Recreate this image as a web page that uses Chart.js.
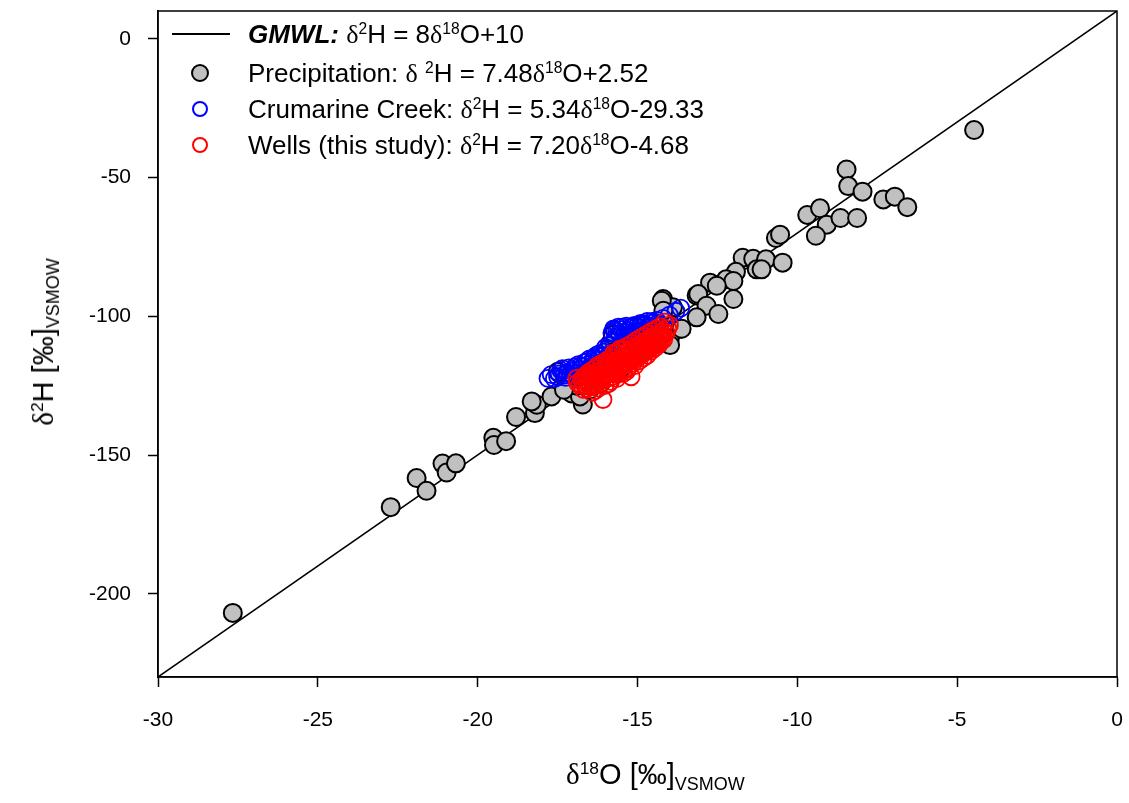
<!DOCTYPE html>
<html>
<head>
<meta charset="utf-8">
<script src="https://cdn.jsdelivr.net/npm/chart.js@4.4.0/dist/chart.umd.min.js"></script>
<style>
  body { margin: 0; background: #fff; }
  #wrap { position: relative; width: 1129px; height: 803px; font-family: "Liberation Sans", Arial, sans-serif; color: #000; }
  #chart { position: absolute; left: 0; top: 0; }
  .lg { position: absolute; left: 248px; height: 30px; line-height: 30px; font-size: 26px; white-space: nowrap; }
  .d { font-family: "Liberation Serif", serif; }
  sup { font-size: 60%; position: relative; top: -0.6em; vertical-align: baseline; }
  sub { font-size: 62%; position: relative; top: 0.35em; vertical-align: baseline; }
  .mk { position: absolute; border-radius: 50%; box-sizing: border-box; }
  .title { position: absolute; font-size: 29px; white-space: nowrap; line-height: 32px; }
</style>
</head>
<body>
<div id="wrap">
  <canvas id="chart" width="1129" height="803"></canvas>

  <div style="position:absolute;left:172px;top:33px;width:58px;height:1.5px;background:#000"></div>
  <div class="lg" style="top:19px"><b><i>GMWL:</i></b> <span class="d">δ</span><sup>2</sup>H = 8<span class="d">δ</span><sup>18</sup>O+10</div>

  <div class="mk" style="left:191px;top:64px;width:18px;height:18px;background:#c0c0c0;border:2px solid #000"></div>
  <div class="lg" style="top:58px">Precipitation: <span class="d">δ</span> <sup>2</sup>H = 7.48<span class="d">δ</span><sup>18</sup>O+2.52</div>

  <div class="mk" style="left:192px;top:101px;width:16px;height:16px;border:2px solid #0000ff"></div>
  <div class="lg" style="top:94px">Crumarine Creek: <span class="d">δ</span><sup>2</sup>H = 5.34<span class="d">δ</span><sup>18</sup>O-29.33</div>

  <div class="mk" style="left:192px;top:137px;width:16px;height:16px;border:2px solid #ff0000"></div>
  <div class="lg" style="top:130px">Wells (this study): <span class="d">δ</span><sup>2</sup>H = 7.20<span class="d">δ</span><sup>18</sup>O-4.68</div>

  <div class="title" style="left:566px;top:758px"><span class="d">δ</span><sup>18</sup>O [‰]<sub>VSMOW</sub></div>
  <div class="title" style="left:45px;top:342px;transform:translate(-50%,-50%) rotate(-90deg)"><span class="d">δ</span><sup>2</sup>H [‰]<sub>VSMOW</sub></div>
</div>

<script>
const xTicks = [-30, -25, -20, -15, -10, -5, 0];
const yTicks = [-200, -150, -100, -50, 0];

// Global meteoric water line end points
const gmwlX = [-30, 0];
const gmwlY = [-230, 10];

const precipX = [-27.66, -22.72, -21.91, -21.6, -21.10, -20.97, -20.68, -19.51, -19.49, -19.11,
  -18.80, -18.21, -18.15, -18.31, -17.69, -17.06, -16.71, -16.80, -15.86, -15.77,
  -14.87, -14.20, -13.89, -13.15, -13.67, -13.99, -8.46, -8.41, -7.96, -7.31,
  -6.95, -6.56, -9.69, -9.29, -9.08, -9.42, -8.65, -8.13, -10.67, -10.54,
  -11.71, -11.38, -10.98, -10.46, -11.27, -11.12, -11.92, -12.23, -12.00, -12.73,
  -12.52, -13.10, -12.00, -12.84, -12.47, -13.15, -14.24, -14.19, -13.62, -4.47,
  -17.49, -13.98, -16.17, -16.5, -16.0, -15.5, -15.0, -14.6, -16.9, -17.3];
const precipY = [-206.9, -168.8, -158.3, -162.9, -153.1, -156.3, -153.0, -143.8, -146.4, -145.0,
  -136.3, -134.9, -131.9, -130.7, -128.9, -127.8, -131.8, -128.9, -109.9, -106.8,
  -103.2, -93.8, -96.8, -92.5, -104.5, -108.1, -47.1, -53.1, -55.1, -57.9,
  -56.9, -60.7, -63.5, -61.1, -67.0, -71.0, -64.6, -64.6, -71.8, -70.6,
  -78.9, -79.3, -79.5, -80.7, -83.1, -83.1, -84.0, -86.7, -87.3, -87.9,
  -89.0, -92.0, -93.8, -96.2, -99.2, -100.4, -94.4, -98.0, -104.5, -32.9,
  -120.0, -110.4, -124.3, -126.5, -121.0, -118.5, -114.0, -110.0, -125.0, -126.5];

const creekX = [-17.8, -17.7, -17.6, -17.5, -17.45, -17.4, -17.35, -17.3, -17.25, -17.2,
  -17.15, -17.1, -17.05, -17.0, -16.98, -16.95, -16.9, -16.88, -16.85, -16.8,
  -16.78, -16.75, -16.7, -16.68, -16.65, -16.6, -16.58, -16.55, -16.5, -16.48,
  -16.45, -16.4, -16.38, -16.35, -16.3, -16.28, -16.25, -16.2, -16.15, -16.1,
  -16.05, -16.0, -16.0, -15.95, -15.9, -15.85, -15.8, -15.75, -15.75, -15.72,
  -15.7, -15.65, -15.6, -15.58, -15.55, -15.5, -15.48, -15.45, -15.4, -15.38,
  -15.35, -15.3, -15.28, -15.25, -15.2, -15.18, -15.15, -15.1, -15.08, -15.05,
  -15.0, -14.98, -14.95, -14.9, -14.88, -14.85, -14.8, -14.78, -14.75, -14.7,
  -14.68, -14.65, -14.6, -14.55, -14.5, -14.45, -14.4, -14.35, -14.3, -14.2,
  -14.0, -13.8, -13.65];
const creekY = [-122.4, -121.0, -122.5, -121.8, -120.8, -119.5, -118.9, -121.2, -122.0, -120.3,
  -118.6, -120.9, -119.8, -121.5, -119.4, -118.2, -120.6, -121.8, -117.4, -119.1,
  -117.9, -121.0, -118.0, -120.3, -116.6, -119.8, -116.4, -117.5, -115.4, -119.0,
  -118.6, -116.3, -115.3, -114.8, -117.7, -114.0, -115.9, -113.6, -116.8, -114.5,
  -112.9, -115.6, -111.2, -111.8, -113.9, -110.5, -106.0, -104.6, -109.2, -105.0,
  -107.8, -105.3, -103.9, -106.2, -106.9, -104.8, -103.9, -108.7, -105.9, -107.0,
  -103.6, -107.2, -105.2, -104.4, -109.4, -103.9, -106.1, -103.3, -106.6, -105.6,
  -107.9, -103.0, -104.1, -102.6, -105.3, -106.4, -104.9, -102.8, -103.2, -101.9,
  -104.2, -105.5, -103.7, -101.9, -102.4, -104.6, -101.5, -102.4, -103.1, -100.8,
  -99.6, -98.2, -97.1];

const wellsX = [-16.9, -16.88, -16.8, -16.75, -16.7, -16.7, -16.68, -16.64, -16.6, -16.6,
  -16.58, -16.55, -16.52, -16.5, -16.48, -16.46, -16.45, -16.42, -16.4, -16.4,
  -16.38, -16.36, -16.35, -16.33, -16.3, -16.3, -16.28, -16.26, -16.25, -16.22,
  -16.2, -16.2, -16.16, -16.15, -16.14, -16.12, -16.1, -16.1, -16.08, -16.06,
  -16.05, -16.02, -16.0, -16.0, -15.98, -15.96, -15.95, -15.94, -15.92, -15.9,
  -15.9, -15.88, -15.86, -15.85, -15.84, -15.82, -15.8, -15.8, -15.78, -15.76,
  -15.75, -15.74, -15.72, -15.7, -15.7, -15.68, -15.66, -15.65, -15.64, -15.62,
  -15.6, -15.6, -15.58, -15.56, -15.55, -15.54, -15.52, -15.5, -15.5, -15.48,
  -15.46, -15.45, -15.44, -15.42, -15.4, -15.4, -15.38, -15.36, -15.35, -15.34,
  -15.32, -15.3, -15.3, -15.28, -15.26, -15.25, -15.22, -15.2, -15.2, -15.18,
  -15.16, -15.15, -15.14, -15.12, -15.1, -15.1, -15.08, -15.06, -15.05, -15.02,
  -15.0, -15.0, -14.98, -14.96, -14.95, -14.94, -14.92, -14.9, -14.9, -14.88,
  -14.86, -14.85, -14.82, -14.8, -14.8, -14.78, -14.76, -14.75, -14.72, -14.7,
  -14.7, -14.68, -14.66, -14.65, -14.62, -14.6, -14.6, -14.58, -14.56, -14.55,
  -14.52, -14.5, -14.5, -14.48, -14.46, -14.45, -14.42, -14.4, -14.4, -14.38,
  -14.36, -14.35, -14.32, -14.3, -14.3, -14.28, -14.26, -14.25, -14.22, -14.2,
  -14.18, -14.15, -14.1, -14.05, -14.0];
const wellsY = [-122.4, -124.0, -124.6, -122.9, -126.3, -123.8, -121.8, -125.0, -123.1, -121.5,
  -126.0, -120.4, -123.8, -122.0, -125.3, -121.0, -119.7, -127.4, -121.5, -125.2,
  -124.6, -122.3, -118.9, -126.8, -120.2, -124.0, -123.7, -121.6, -117.8, -125.9,
  -121.1, -123.4, -120.5, -119.3, -117.9, -123.0, -116.9, -122.2, -130.0, -119.6,
  -121.7, -125.0, -118.4, -121.4, -122.6, -119.0, -115.8, -116.6, -120.7, -124.3,
  -120.9, -117.1, -118.2, -119.6, -123.5, -121.9, -114.9, -119.9, -117.8, -117.4,
  -120.4, -113.2, -116.2, -118.9, -120.6, -113.6, -117.0, -122.5, -121.0, -115.8,
  -118.1, -119.3, -112.3, -115.9, -116.9, -111.8, -120.1, -114.6, -118.3, -117.5,
  -115.1, -111.9, -120.6, -119.4, -115.2, -117.6, -113.0, -114.4, -116.6, -119.8,
  -110.8, -118.7, -116.4, -114.1, -113.5, -112.0, -116.0, -121.8, -115.6, -109.9,
  -112.8, -113.3, -117.0, -115.9, -111.2, -114.8, -117.8, -112.0, -108.8, -112.6,
  -114.7, -113.6, -110.4, -111.3, -116.1, -114.4, -107.9, -111.8, -113.0, -113.7,
  -110.6, -109.6, -115.0, -107.2, -112.3, -110.9, -109.8, -112.8, -108.7, -114.1,
  -111.4, -106.3, -109.1, -110.0, -111.9, -107.8, -110.6, -112.6, -108.4, -105.4,
  -109.1, -110.7, -109.6, -107.0, -107.6, -111.4, -104.6, -108.3, -109.0, -109.9,
  -106.9, -106.2, -110.0, -103.8, -108.2, -107.1, -105.8, -108.8, -107.0, -105.3,
  -108.4, -102.1, -106.0, -104.4, -103.2];

const toPoints = (xs, ys) => xs.map((x, i) => ({ x: x, y: ys[i] }));

// closes the frame on the top and right
const frameBox = {
  id: 'frameBox',
  afterDraw(chart) {
    const a = chart.chartArea;
    const ctx = chart.ctx;
    ctx.save();
    ctx.strokeStyle = '#000';
    ctx.lineWidth = 1.5;
    ctx.strokeRect(a.left, a.top, a.right - a.left, a.bottom - a.top);
    ctx.restore();
  }
};

const tickFont = { family: '"Liberation Sans", Arial, sans-serif', size: 21 };

new Chart(document.getElementById('chart').getContext('2d'), {
  type: 'scatter',
  data: {
    datasets: [
      {
        label: 'Wells (this study)',
        data: toPoints(wellsX, wellsY),
        pointRadius: 8.5,
        borderWidth: 1.8,
        borderColor: '#ff0000',
        backgroundColor: 'rgba(0,0,0,0)',
        order: 0
      },
      {
        label: 'Crumarine Creek',
        data: toPoints(creekX, creekY),
        pointRadius: 8.5,
        borderWidth: 1.8,
        borderColor: '#0000ff',
        backgroundColor: 'rgba(0,0,0,0)',
        order: 1
      },
      {
        label: 'Precipitation',
        data: toPoints(precipX, precipY),
        pointRadius: 9,
        borderWidth: 2,
        borderColor: '#000',
        backgroundColor: '#c0c0c0',
        order: 2
      },
      {
        label: 'GMWL',
        type: 'line',
        data: toPoints(gmwlX, gmwlY),
        showLine: true,
        pointRadius: 0,
        borderWidth: 1.5,
        borderColor: '#000',
        fill: false,
        order: 3
      }
    ]
  },
  options: {
    responsive: false,
    animation: false,
    layout: { padding: { top: 6, right: 12, left: 0, bottom: 0 } },
    plugins: {
      legend: { display: false },
      tooltip: { enabled: false },
      title: { display: false }
    },
    scales: {
      x: {
        type: 'linear',
        min: -30,
        max: 0,
        afterBuildTicks: s => { s.ticks = xTicks.map(v => ({ value: v })); },
        afterFit: s => { s.height = 126; s.paddingLeft = 0; s.paddingRight = 0; },
        ticks: { font: tickFont, color: '#000', padding: 21, maxRotation: 0 },
        grid: { drawOnChartArea: false, drawTicks: true, tickLength: 10, tickColor: '#000', tickWidth: 1.5 },
        border: { color: '#000', width: 1.5 }
      },
      y: {
        type: 'linear',
        min: -230,
        max: 10,
        afterBuildTicks: s => { s.ticks = yTicks.map(v => ({ value: v })); },
        afterFit: s => { s.width = 158; s.paddingTop = 0; s.paddingBottom = 0; },
        ticks: { font: tickFont, color: '#000', padding: 17 },
        grid: { drawOnChartArea: false, drawTicks: true, tickLength: 10, tickColor: '#000', tickWidth: 1.5 },
        border: { color: '#000', width: 1.5 }
      }
    }
  },
  plugins: [frameBox]
});
</script>
</body>
</html>
